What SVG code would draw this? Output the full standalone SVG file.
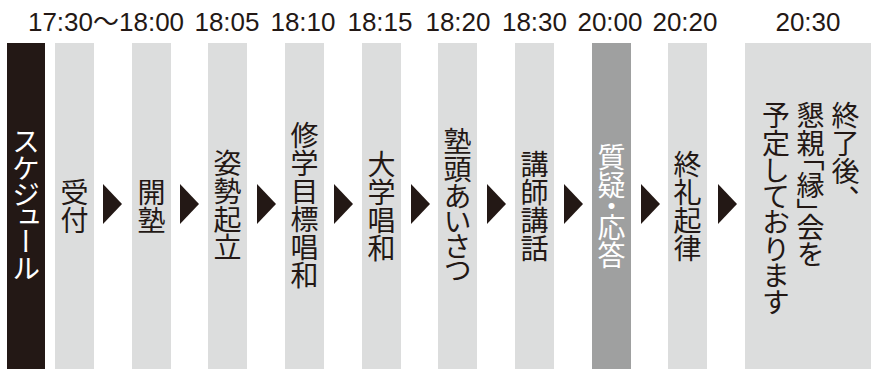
<svg xmlns="http://www.w3.org/2000/svg" width="871" height="370" viewBox="0 0 871 370">
<style>
.time{font-family:"Liberation Sans","Noto Sans CJK JP",sans-serif;font-size:26px;fill:#231815;text-anchor:middle}
.bar{fill:#dcdddd}
.dark{fill:#9fa0a0}
.head{fill:#231815}
.v{font-family:"Noto Sans CJK JP",sans-serif;font-size:28px;font-weight:400;fill:#231815;writing-mode:vertical-rl;text-anchor:middle;font-feature-settings:"vpal"}
.s{text-anchor:start}
.w{fill:#ffffff}
.arrow{fill:#231815}
</style>
<rect width="871" height="370" fill="#ffffff"/>
<g id="times">
<text class="time" x="106" y="31">17:30〜18:00</text>
</g>
<g id="schedule">
<rect class="head" x="7" y="43" width="38" height="326"/>
<text class="v w" x="26" y="205">スケジュール</text>
</g>
<g id="uketsuke">
<rect class="bar" x="55" y="43" width="39" height="326"/>
<text class="v" x="74.5" y="206">受付</text>
</g>
<g id="kaijuku">
<rect class="bar" x="132" y="43" width="39" height="326"/>
<text class="v" x="151.5" y="206">開塾</text>
</g>
<g id="shisei">
<rect class="bar" x="208" y="43" width="39" height="326"/>
<text class="time" x="227" y="31">18:05</text>
<text class="v" x="227.5" y="205">姿勢起立</text>
</g>
<g id="mokuhyo">
<rect class="bar" x="285" y="43" width="39" height="326"/>
<text class="time" x="303" y="31">18:10</text>
<text class="v" x="304.5" y="205">修学目標唱和</text>
</g>
<g id="daigaku">
<rect class="bar" x="362" y="43" width="39" height="326"/>
<text class="time" x="380" y="31">18:15</text>
<text class="v" x="381.5" y="206">大学唱和</text>
</g>
<g id="jukuto">
<rect class="bar" x="438" y="43" width="39" height="326"/>
<text class="time" x="458" y="31">18:20</text>
<text class="v" x="457.5" y="205">塾頭あいさつ</text>
</g>
<g id="koshi">
<rect class="bar" x="515" y="43" width="39" height="326"/>
<text class="time" x="534.5" y="31">18:30</text>
<text class="v" x="534.5" y="206">講師講話</text>
</g>
<g id="shitsugi">
<rect class="dark" x="592" y="43" width="39" height="326"/>
<text class="time" x="610" y="31">20:00</text>
<text class="v w" x="611.5" y="206">質疑・応答</text>
</g>
<g id="shurei">
<rect class="bar" x="668" y="43" width="39" height="326"/>
<text class="time" x="685" y="31">20:20</text>
<text class="v" x="687.5" y="206">終礼起律</text>
</g>
<g id="konshin">
<rect class="bar" x="745" y="43" width="126" height="326"/>
<text class="time" x="808" y="31">20:30</text>
<text class="v s" x="845.5" y="101">終了後、</text>
<text class="v s" x="810.5" y="101">懇親「縁」会を</text>
<text class="v s" x="776" y="101">予定しております</text>
</g>
<g id="connectors">
<polygon class="arrow" points="103,184 122,204 103,224"/>
<polygon class="arrow" points="180,184 199,204 180,224"/>
<polygon class="arrow" points="257,184 276,204 257,224"/>
<polygon class="arrow" points="334,184 353,204 334,224"/>
<polygon class="arrow" points="411,184 430,204 411,224"/>
<polygon class="arrow" points="487,184 506,204 487,224"/>
<polygon class="arrow" points="564,184 583,204 564,224"/>
<polygon class="arrow" points="641,184 660,204 641,224"/>
<polygon class="arrow" points="718,184 737,204 718,224"/>
</g>
</svg>
